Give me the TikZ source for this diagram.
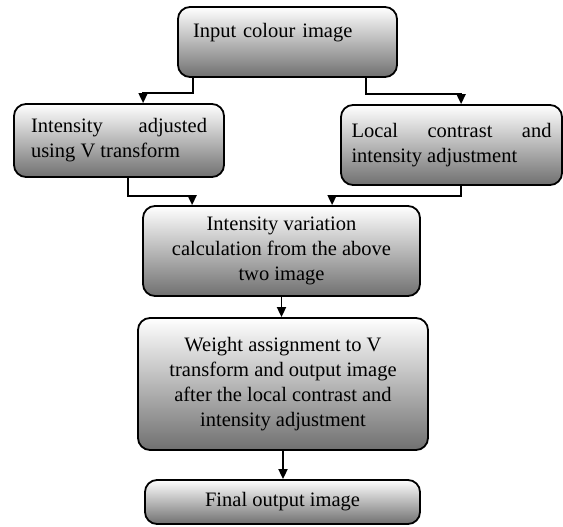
\documentclass[tikz,border=0pt]{standalone}
\usepackage{fontspec}
\setmainfont{Liberation Serif}
\usetikzlibrary{arrows.meta}
\definecolor{BoxShade}{HTML}{707070}
\tikzset{
  stagebox/.style={
    rounded corners=12pt,
    draw=black,
    line width=1.8pt,
    top color=white,
    bottom color=BoxShade,
    inner sep=0pt,
    font=\fontsize{20.5}{25}\selectfont
  },
  flow/.style={
    line width=1.8pt,
    -{Triangle[width=9pt,length=10pt]}
  }
}

\begin{document}
\begin{tikzpicture}[x=1pt,y=-1pt]
  \useasboundingbox (0,0) rectangle (563,527);

  \node[
    stagebox,
    text width=189pt,
    inner xsep=15pt,
    minimum height=70pt,
    text depth=24pt,
    align=left
  ] (input) at (287.5,42) {Input colour image};

  \node[
    stagebox,
    text width=176pt,
    inner xsep=17pt,
    minimum height=73pt,
    align=justify
  ] (vtrans) at (119,140.5) {Intensity adjusted\linebreak using V transform};

  \node[
    stagebox,
    text width=200pt,
    inner xsep=10.5pt,
    minimum height=80pt,
    align=justify
  ] (localc) at (451.5,145) {Local contrast and\linebreak intensity adjustment};

  \node[
    stagebox,
    minimum width=277pt,
    minimum height=90pt,
    align=center
  ] (variation) at (281.5,251) {Intensity variation\\calculation from the above\\two image};

  \node[
    stagebox,
    minimum width=290pt,
    minimum height=132pt,
    align=center
  ] (weight) at (283,384) {Weight assignment to V\\transform and output image\\after the local contrast and\\intensity adjustment};

  \node[
    stagebox,
    minimum width=275pt,
    minimum height=44pt,
    align=center
  ] (final) at (282.5,502) {Final output image};

  % split of the input image
  \draw[flow] ([xshift=16pt]input.south west) -- ++(0,15) -| ([xshift=130pt]vtrans.north west);
  \draw[flow] ([xshift=-32pt]input.south east) -- ++(0,16) -| ([xshift=121pt]localc.north west);

  % join into the variation step
  \draw[flow] ([xshift=115pt]vtrans.south west) -- ++(0,18) -| ([xshift=50pt]variation.north west);
  \draw[flow] ([xshift=121pt]localc.south west) -- ++(0,10) -| ([xshift=190pt]variation.north west);

  \draw[flow] (variation.south) -- (variation.south |- weight.north);
  \draw[flow] (weight.south) -- (weight.south |- final.north);
\end{tikzpicture}
\end{document}
